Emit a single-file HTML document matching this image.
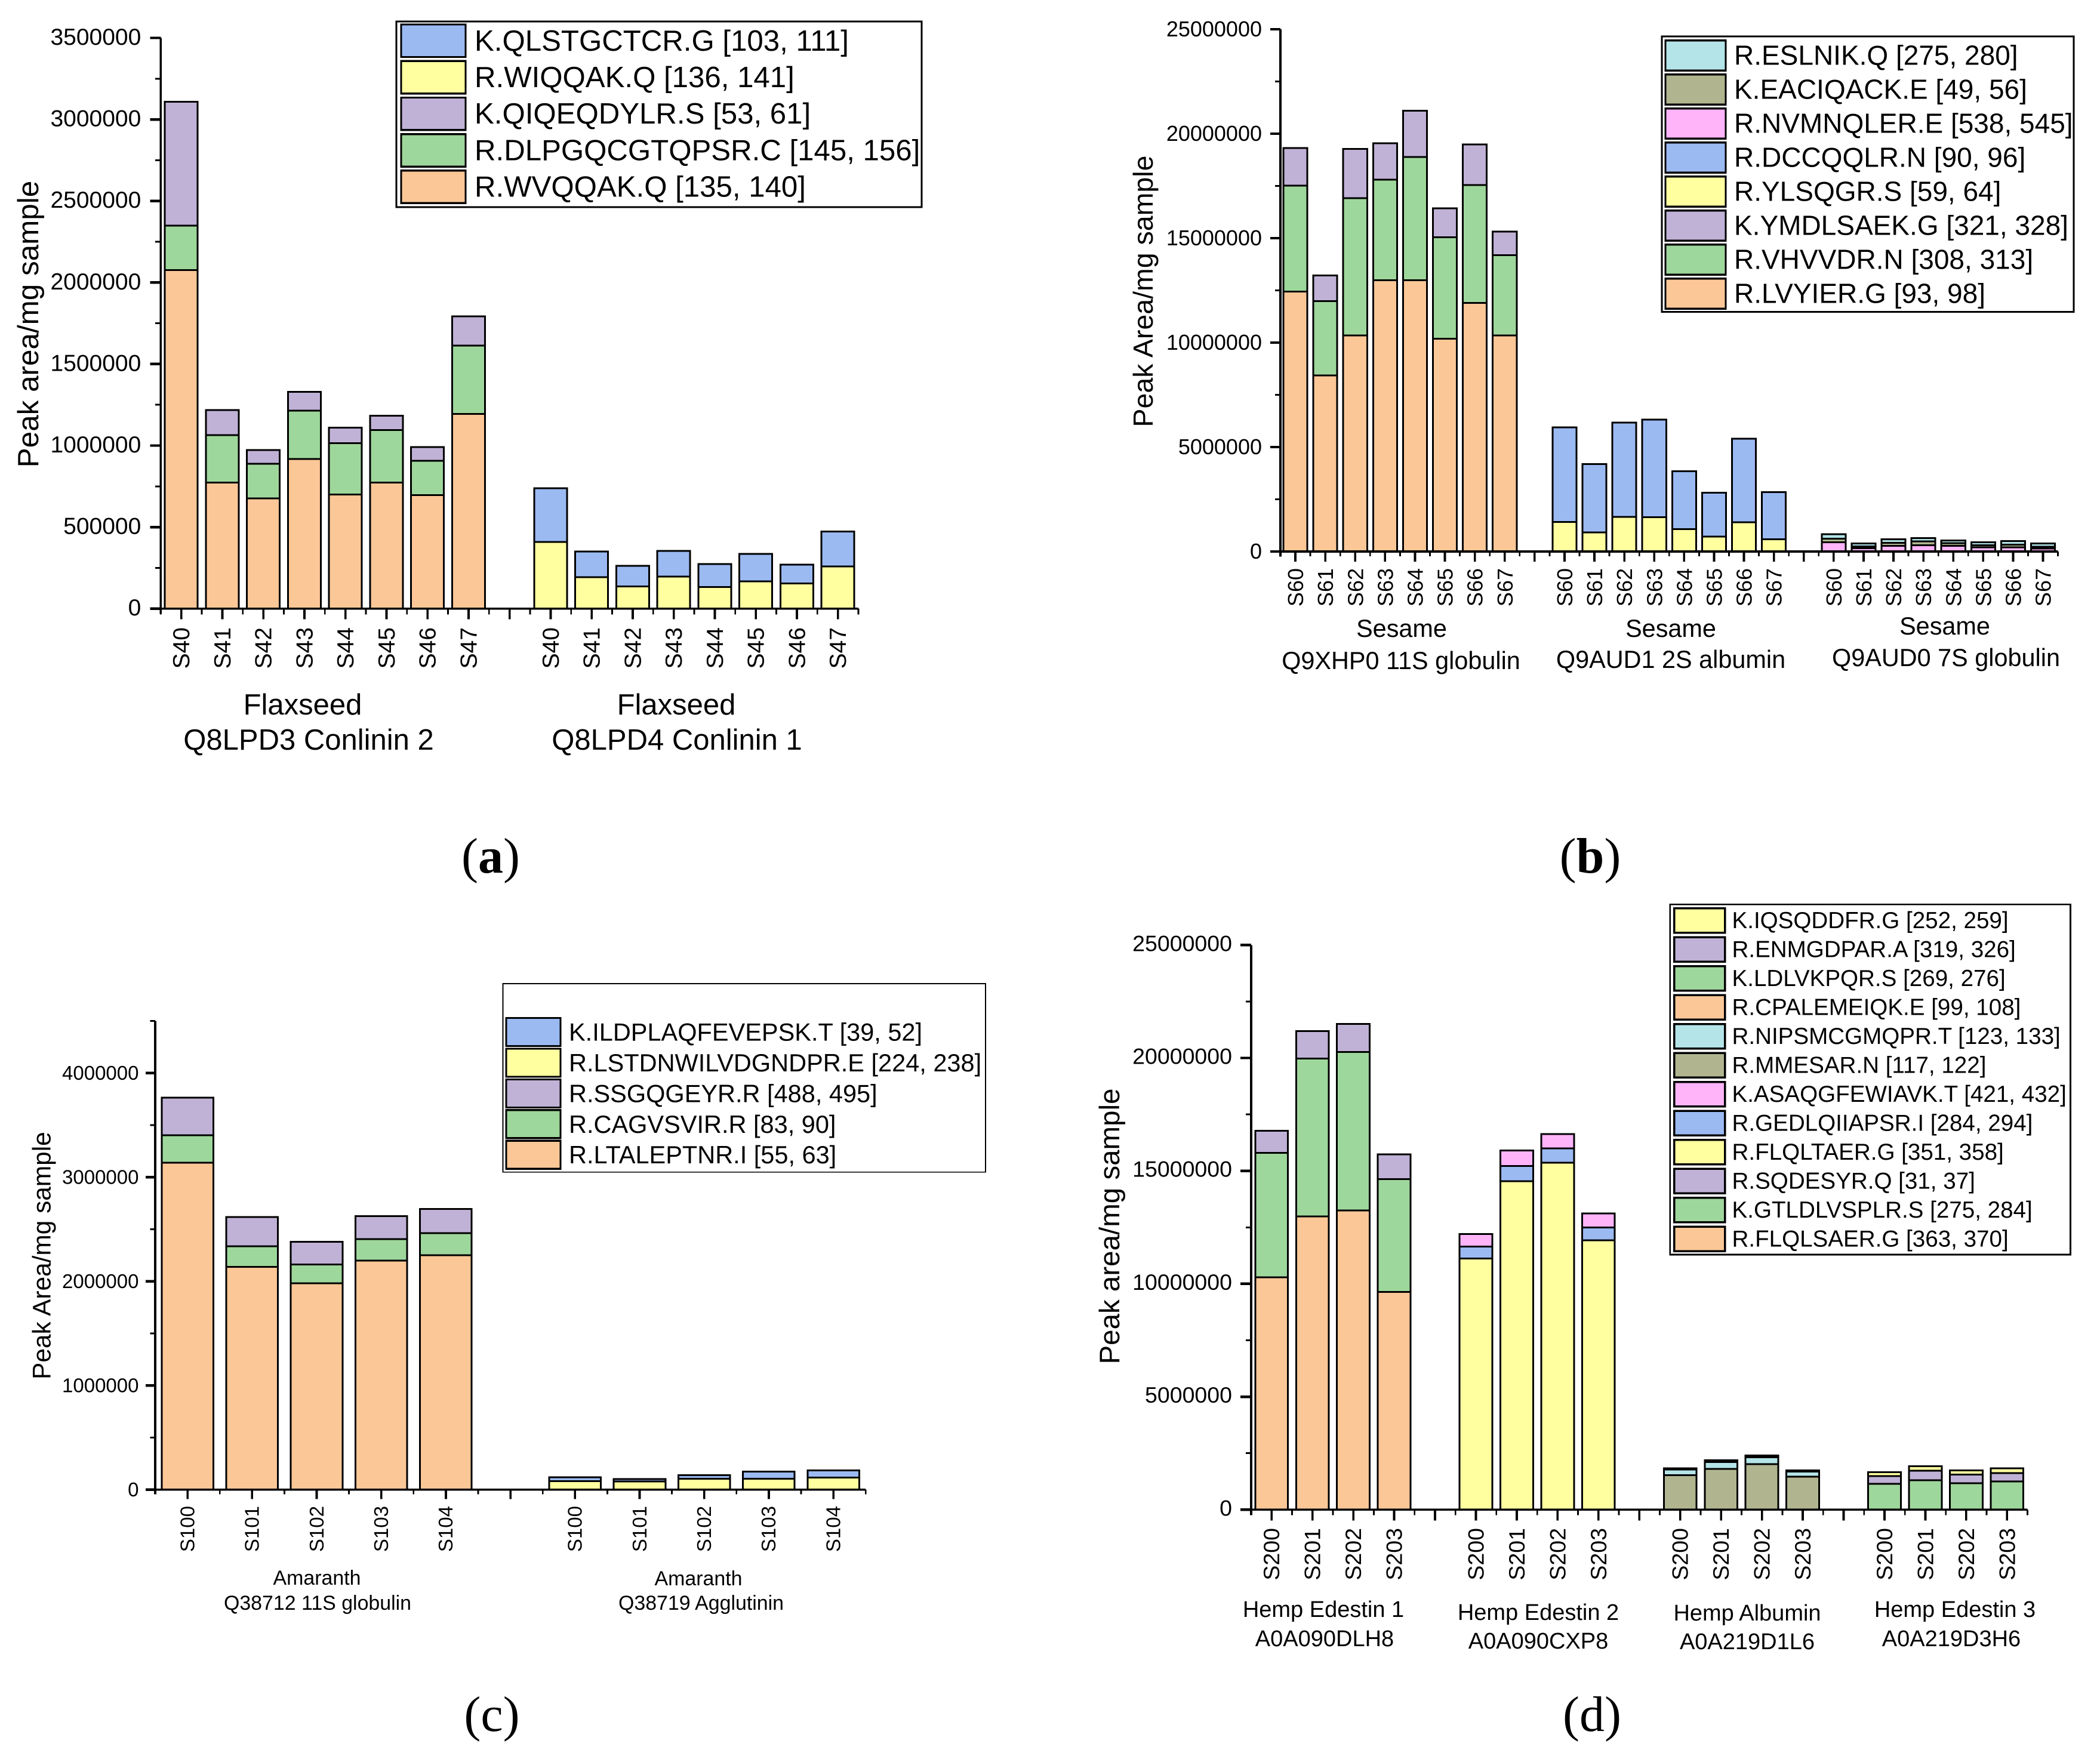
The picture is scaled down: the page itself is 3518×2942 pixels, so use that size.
<!DOCTYPE html>
<html lang="en">
<head>
<meta charset="utf-8">
<title>Peptide peak area stacked bar charts</title>
<style>
html,body{margin:0;padding:0;background:#fff;}
svg{display:block;}
text{font-family:"Liberation Sans",Arial,sans-serif;fill:#000;}
.caption{font-family:"Liberation Serif","Times New Roman",serif;font-size:84px;}
</style>
</head>
<body>
<svg id="figure" xmlns="http://www.w3.org/2000/svg" width="3518" height="2942" viewBox="0 0 3518 2942">
  <rect x="0" y="0" width="3518" height="2942" fill="#ffffff"/>
  <g id="panel-a"></g>
  <g id="panel-b"></g>
  <g id="panel-c"></g>
  <g id="panel-d"></g>
  <text class="caption" x="822" y="1462" text-anchor="middle">(<tspan font-weight="bold">a</tspan>)</text>
  <text class="caption" x="2664" y="1462" text-anchor="middle">(<tspan font-weight="bold">b</tspan>)</text>
  <text class="caption" x="824" y="2900" text-anchor="middle">(c)</text>
  <text class="caption" x="2667" y="2900" text-anchor="middle">(d)</text>
</svg>
<script>
/* ---------- palette ---------- */
const peach='#FCC797', green='#9ED79B', purple='#C0B2D6', yellow='#FFFFA0', blue='#9BBAF2', tan='#B1B58F', cyan='#B4E4E8', pink='#FFB4FA';

/* ---------- panel (a) data ---------- */
const aSamples=['S40','S41','S42','S43','S44','S45','S46','S47'];
const aYTicks=[0,500000,1000000,1500000,2000000,2500000,3000000,3500000];
const aWvqqak=[2075500,773500,675500,917000,700000,773500,696500,1193500];
const aDlpg=[273000,290500,213500,297500,315000,322000,210000,420000];
const aQiqe=[759500,154000,84000,115500,94500,87500,84000,178500];
const aWiqqak=[409500,192500,136500,196000,133000,168000,154000,259000];
const aQlstg=[329000,157500,126000,157500,140000,168000,115500,213500];
const aLegendLabels=['K.QLSTGCTCR.G [103, 111]','R.WIQQAK.Q [136, 141]','K.QIQEQDYLR.S [53, 61]','R.DLPGQCGTQPSR.C [145, 156]','R.WVQQAK.Q [135, 140]'];
const aLegendColors=[blue,yellow,purple,green,peach];
const aYTitle='Peak area/mg sample';
const aGroupLine1=['Flaxseed','Flaxseed'];
const aGroupLine2=['Q8LPD3 Conlinin 2','Q8LPD4 Conlinin 1'];

/* ---------- panel (b) data ---------- */
const bSamples=['S60','S61','S62','S63','S64','S65','S66','S67'];
const bYTicks=[0,5000000,10000000,15000000,20000000,25000000];
const bLvyier=[12450000,8430000,10340000,12990000,12990000,10180000,11900000,10340000];
const bVhvvdr=[5070000,3550000,6580000,4810000,5900000,4860000,5650000,3850000];
const bYmdl=[1800000,1230000,2350000,1740000,2210000,1390000,1940000,1120000];
const bYlsqgr=[1420000,920000,1660000,1640000,1070000,710000,1400000,590000];
const bDccqqlr=[4530000,3270000,4510000,4680000,2770000,2100000,4000000,2250000];
const bNvmn=[450000,155000,270000,300000,270000,200000,200000,145000];
const bEaci=[170000,90000,140000,180000,130000,100000,130000,90000];
const bEsln=[210000,135000,170000,160000,130000,140000,170000,145000];
const bLegendLabels=['R.ESLNIK.Q [275, 280]','K.EACIQACK.E [49, 56]','R.NVMNQLER.E [538, 545]','R.DCCQQLR.N [90, 96]','R.YLSQGR.S [59, 64]','K.YMDLSAEK.G [321, 328]','R.VHVVDR.N [308, 313]','R.LVYIER.G [93, 98]'];
const bLegendColors=[cyan,tan,pink,blue,yellow,purple,green,peach];
const bYTitle='Peak Area/mg sample';
const bGroupLine1=['Sesame','Sesame','Sesame'];
const bGroupLine2=['Q9XHP0 11S globulin','Q9AUD1 2S albumin','Q9AUD0 7S globulin'];

/* ---------- panel (c) data ---------- */
const cSamples=['S100','S101','S102','S103','S104'];
const cYTicks=[0,1000000,2000000,3000000,4000000];
const cLtal=[3139000,2140000,1980000,2198000,2251000];
const cCagv=[264000,196000,181000,206000,211000];
const cSsgq=[359000,280000,217000,222000,233000];
const cLstd=[82000,78000,105000,105000,116000];
const cIldp=[36000,23000,34000,69000,69000];
const cLegendLabels=['K.ILDPLAQFEVEPSK.T [39, 52]','R.LSTDNWILVDGNDPR.E [224, 238]','R.SSGQGEYR.R [488, 495]','R.CAGVSVIR.R [83, 90]','R.LTALEPTNR.I [55, 63]'];
const cLegendColors=[blue,yellow,purple,green,peach];
const cYTitle='Peak Area/mg sample';
const cGroupLine1=['Amaranth','Amaranth'];
const cGroupLine2=['Q38712 11S globulin','Q38719 Agglutinin'];

/* ---------- panel (d) data ---------- */
const dSamples=['S200','S201','S202','S203'];
const dYTicks=[0,5000000,10000000,15000000,20000000,25000000];
const dFlqlsaer=[10290000,12990000,13250000,9640000];
const dGtld=[5510000,6990000,7020000,5000000];
const dSqde=[970000,1210000,1230000,1090000];
const dFlqltaer=[11120000,14540000,15360000,11920000];
const dGedl=[530000,680000,640000,580000];
const dAsaq=[560000,680000,630000,610000];
const dMmes=[1530000,1800000,2020000,1460000];
const dNips=[250000,305000,300000,220000];
const dCpal=[50000,85000,80000,55000];
const dLdlv=[1150000,1300000,1170000,1250000];
const dEnmg=[340000,430000,380000,370000];
const dIqsq=[175000,200000,190000,210000];
const dLegendLabels=['K.IQSQDDFR.G [252, 259]','R.ENMGDPAR.A [319, 326]','K.LDLVKPQR.S [269, 276]','R.CPALEMEIQK.E [99, 108]','R.NIPSMCGMQPR.T [123, 133]','R.MMESAR.N [117, 122]','K.ASAQGFEWIAVK.T [421, 432]','R.GEDLQIIAPSR.I [284, 294]','R.FLQLTAER.G [351, 358]','R.SQDESYR.Q [31, 37]','K.GTLDLVSPLR.S [275, 284]','R.FLQLSAER.G [363, 370]'];
const dLegendColors=[yellow,purple,green,peach,cyan,tan,pink,blue,yellow,purple,green,peach];
const dYTitle='Peak area/mg sample';
const dGroupLine1=['Hemp Edestin 1','Hemp Edestin 2','Hemp Albumin','Hemp Edestin 3'];
const dGroupLine2=['A0A090DLH8','A0A090CXP8','A0A219D1L6','A0A219D3H6'];

/* ---------- drawing helpers ---------- */
const NS='http://www.w3.org/2000/svg';
function make(parent,tag,attrs){
  const el=document.createElementNS(NS,tag);
  for(const k in attrs){el.setAttribute(k,attrs[k]);}
  parent.appendChild(el);
  return el;
}
function drawLine(parent,x1,y1,x2,y2,w){
  return make(parent,'line',{x1:x1,y1:y1,x2:x2,y2:y2,stroke:'#000','stroke-width':w,'shape-rendering':'crispEdges'});
}
function drawText(parent,str,x,y,size,anchor,rotated){
  const attrs={x:x,y:y,'font-size':size,'text-anchor':anchor};
  if(rotated){attrs.transform='rotate(-90 '+x+' '+y+')';}
  const el=make(parent,'text',attrs);
  el.textContent=str;
  return el;
}

function drawPanel(root,layout,samples,yTicks,groupSeries,groupColors,yTitle,line1,line2,legendLabels,legendColors){
  /* axis functions */
  const xScale=function(slot){return layout.axisX+(slot-0.5)*layout.slot;};
  const yScale=function(v){return layout.baseY-v*layout.pxPerUnit;};
  const nGroups=groupSeries.length;
  const perGroup=samples.length;
  const totalSlots=nGroups*perGroup+(nGroups-1);
  const axisEnd=xScale(totalSlots+0.5);
  const topValue=layout.axisTop;

  /* bars */
  groupSeries.forEach(function(series,g){
    samples.forEach(function(sample,i){
      const slot=g*(perGroup+1)+i+1;
      let running=0;
      series.forEach(function(values,s){
        const y0=yScale(running);
        running+=values[i];
        const y1=yScale(running);
        const rect=make(root,'rect',{x:xScale(slot)-layout.slot*0.4,y:y1,width:layout.slot*0.8,height:y0-y1,fill:groupColors[g][s],stroke:'#000','stroke-width':3,'shape-rendering':'crispEdges'});
        
        
      });
    });
  });

  /* y axis */
  const yAxis=drawLine(root,layout.axisX,yScale(topValue),layout.axisX,layout.baseY+layout.majorTick*0.5,3.7);
  
  
  yTicks.forEach(function(v,i){
    const tick=drawLine(root,layout.axisX-layout.majorTick,yScale(v),layout.axisX,yScale(v),4.4);
    
    
    const label=drawText(root,String(v),layout.axisX-layout.yLabelGap,yScale(v)+layout.labelDy,layout.tickFont,'end',false);
    
    
    const next=i<yTicks.length-1?yTicks[i+1]:v+(yTicks[1]-yTicks[0]);
    const mid=(v+next)/2;
    if(mid<=topValue){
      const minor=drawLine(root,layout.axisX-layout.minorTick,yScale(mid),layout.axisX,yScale(mid),3);
      
      
    }
  });

  /* x axis */
  const xAxis=drawLine(root,layout.axisX-layout.majorTick,layout.baseY,axisEnd,layout.baseY,3.7);
  
  
  for(let slot=0;slot<=totalSlots;slot++){
    const edge=xScale(slot+0.5);
    const minor=drawLine(root,edge,layout.baseY,edge,layout.baseY+layout.xMinorTick,2.8);
    
    
    if(slot<totalSlots){
      const c=xScale(slot+1);
      const major=drawLine(root,c,layout.baseY,c,layout.baseY+layout.majorTick,3.7);
      
      
    }
  }
  groupSeries.forEach(function(series,g){
    samples.forEach(function(sample,i){
      const slot=g*(perGroup+1)+i+1;
      const label=drawText(root,sample,xScale(slot)+layout.xLabelOffset,layout.xLabelTop,layout.xLabelFont,'end',true);
      
      
    });
  });

  /* group labels */
  line1.forEach(function(str,g){
    const first=drawText(root,str,layout.line1X[g],layout.line1Y[g],layout.groupFont,'middle',false);
    
    
    const second=drawText(root,line2[g],layout.line2X[g],layout.line2Y[g],layout.groupFont,'middle',false);
    
    
  });

  /* y title */
  const title=drawText(root,yTitle,layout.titleX,layout.titleY,layout.titleFont,'middle',true);
  
  

  /* legend */
  const box=make(root,'rect',{x:layout.legX,y:layout.legY,width:layout.legW,height:layout.legH,fill:'#fff',stroke:'#000','stroke-width':layout.legStroke,'shape-rendering':'crispEdges'});
  
  
  legendLabels.forEach(function(str,i){
    const cy=layout.legFirstY+i*layout.legRow;
    const swatch=make(root,'rect',{x:layout.swX,y:cy-layout.swH/2,width:layout.swW,height:layout.swH,fill:legendColors[i],stroke:'#000','stroke-width':3.3,'shape-rendering':'crispEdges'});
    
    
    const t=drawText(root,str,layout.legTextX,cy+layout.legBaseline,layout.legFont,'start',false);
    
    
  });
}

/* ---------- render all panels ---------- */
drawPanel(document.getElementById('panel-a'),
  {axisX:269.3,baseY:1019.7,slot:68.75,pxPerUnit:136.6/500000,axisTop:3500000,majorTick:18,minorTick:9.5,xMinorTick:10,yLabelGap:33,tickFont:39,labelDy:11.5,xLabelOffset:13.5,xLabelTop:1051,xLabelFont:39,groupFont:49,
   line1X:[507,1133],line1Y:[1197,1197],line2X:[517,1134],line2Y:[1256,1256],titleX:64,titleY:543,titleFont:49.4,
   legX:664,legY:36,legW:880,legH:311,legStroke:2.7,legFirstY:68.3,legRow:61.2,swX:672,swW:108,swH:54.4,legTextX:795,legBaseline:16.5,legFont:49.2},
  aSamples,aYTicks,[[aWvqqak,aDlpg,aQiqe],[aWiqqak,aQlstg]],[[peach,green,purple],[yellow,blue]],
  aYTitle,aGroupLine1,aGroupLine2,aLegendLabels,aLegendColors);

drawPanel(document.getElementById('panel-b'),
  {axisX:2145,baseY:924,slot:50.1,pxPerUnit:175/5000000,axisTop:25000000,majorTick:17,minorTick:9,xMinorTick:8,yLabelGap:31,tickFont:36,labelDy:12,xLabelOffset:13,xLabelTop:952,xLabelFont:36,groupFont:41.4,
   line1X:[2348,2799,3258],line1Y:[1067,1067,1063],line2X:[2347,2799,3260],line2Y:[1121,1119,1116],titleX:1931,titleY:488,titleFont:46.5,
   legX:2784,legY:61,legW:690,legH:461.5,legStroke:2.7,legFirstY:93,legRow:57,swX:2790,swW:101,swH:50.6,legTextX:2905,legBaseline:15.5,legFont:46},
  bSamples,bYTicks,[[bLvyier,bVhvvdr,bYmdl],[bYlsqgr,bDccqqlr],[bNvmn,bEaci,bEsln]],[[peach,green,purple],[yellow,blue],[pink,tan,cyan]],
  bYTitle,bGroupLine1,bGroupLine2,bLegendLabels,bLegendColors);

drawPanel(document.getElementById('panel-c'),
  {axisX:260,baseY:2495.7,slot:108.2,pxPerUnit:174.5/1000000,axisTop:4500000,majorTick:16,minorTick:8.5,xMinorTick:8,yLabelGap:27.5,tickFont:33,labelDy:11.3,xLabelOffset:11.3,xLabelTop:2523,xLabelFont:33,groupFont:33.9,
   line1X:[531,1170],line1Y:[2655,2656],line2X:[532,1174.5],line2Y:[2697,2697],titleX:84.5,titleY:2103.6,titleFont:42.4,
   legX:842.5,legY:1648,legW:808.5,legH:315.7,legStroke:1.6,legFirstY:1729.1,legRow:51.4,swX:848,swW:91,swH:47,legTextX:953,legBaseline:14.5,legFont:41.5},
  cSamples,cYTicks,[[cLtal,cCagv,cSsgq],[cLstd,cIldp]],[[peach,green,purple],[yellow,blue]],
  cYTitle,cGroupLine1,cGroupLine2,cLegendLabels,cLegendColors);

drawPanel(document.getElementById('panel-d'),
  {axisX:2096,baseY:2529.3,slot:68.45,pxPerUnit:189.2/5000000,axisTop:25000000,majorTick:18,minorTick:9,xMinorTick:9,yLabelGap:32,tickFont:37.5,labelDy:10,xLabelOffset:13,xLabelTop:2560,xLabelFont:37.5,groupFont:38,
   line1X:[2217,2577,2927,3275],line1Y:[2709,2714,2715,2709],line2X:[2219,2577,2927,3269],line2Y:[2758,2762,2763,2758],titleX:1875,titleY:2054.5,titleFont:47.5,
   legX:2797.7,legY:1515.3,legW:670.8,legH:586.7,legStroke:2.7,legFirstY:1542.2,legRow:48.5,swX:2804.7,swW:85,swH:41,legTextX:2901.5,legBaseline:13,legFont:38.6},
  dSamples,dYTicks,[[dFlqlsaer,dGtld,dSqde],[dFlqltaer,dGedl,dAsaq],[dMmes,dNips,dCpal],[dLdlv,dEnmg,dIqsq]],[[peach,green,purple],[yellow,blue,pink],[tan,cyan,peach],[green,purple,yellow]],
  dYTitle,dGroupLine1,dGroupLine2,dLegendLabels,dLegendColors);
</script>
</body>
</html>
